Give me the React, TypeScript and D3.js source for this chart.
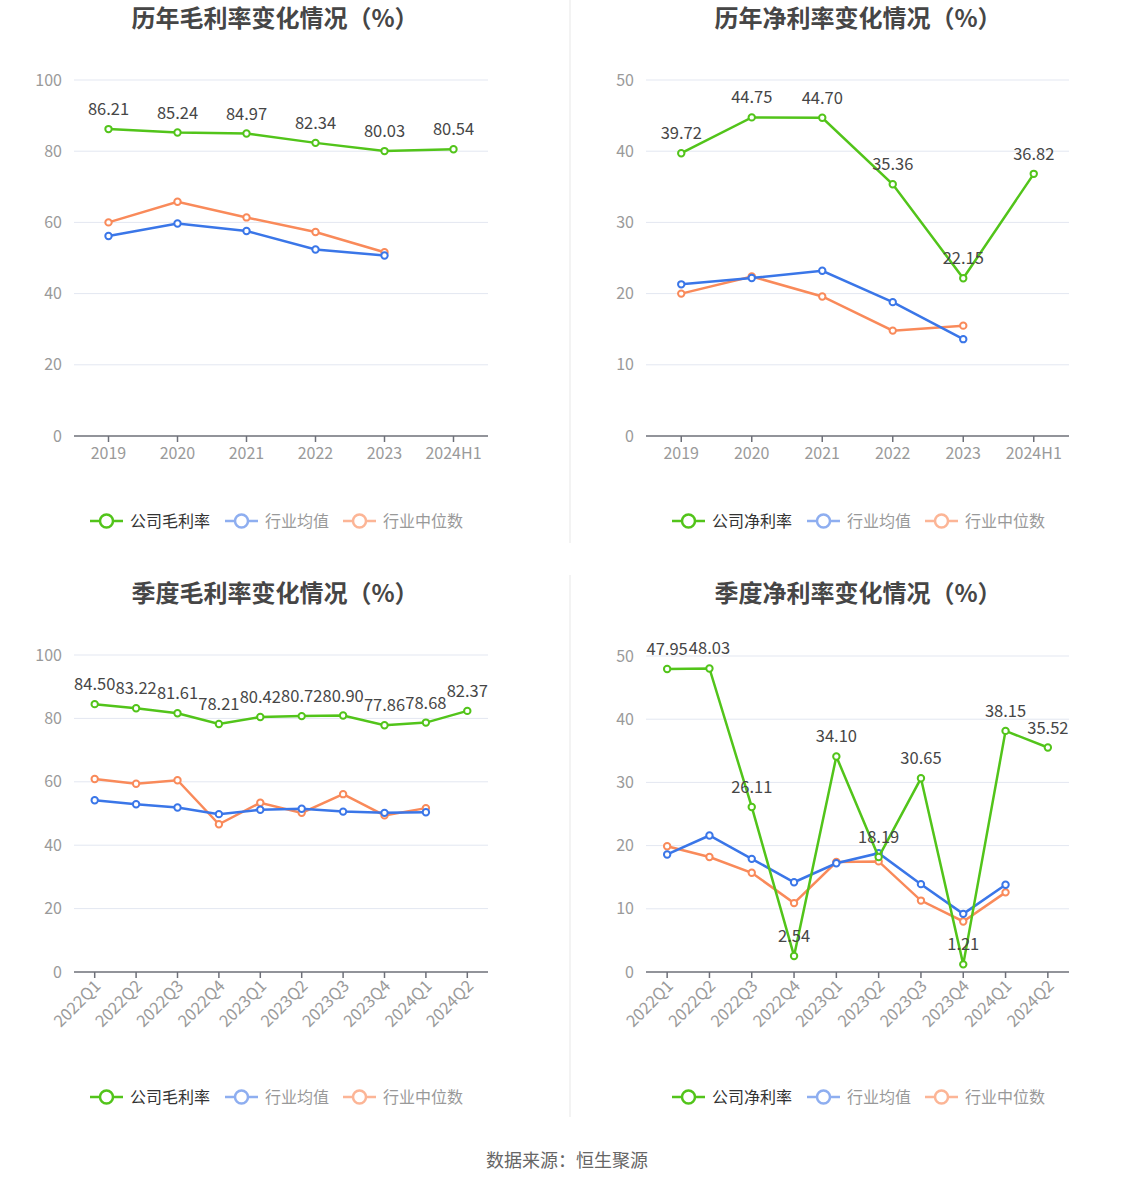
import React from 'react'
import * as d3 from 'd3'

// categories
const years = ['2019', '2020', '2021', '2022', '2023', '2024H1']
const quarters = ['2022Q1', '2022Q2', '2022Q3', '2022Q4', '2023Q1', '2023Q2', '2023Q3', '2023Q4', '2024Q1', '2024Q2']

// 历年毛利率
const yearGross = [86.21, 85.24, 84.97, 82.34, 80.03, 80.54]
const yearGrossAvg = [56.2, 59.7, 57.6, 52.4, 50.7]
const yearGrossMid = [60.0, 65.8, 61.4, 57.3, 51.6]

// 历年净利率
const yearNet = [39.72, 44.75, 44.7, 35.36, 22.15, 36.82]
const yearNetAvg = [21.3, 22.2, 23.2, 18.8, 13.6]
const yearNetMid = [20.0, 22.4, 19.6, 14.8, 15.5]

// 季度毛利率
const qGross = [84.5, 83.22, 81.61, 78.21, 80.42, 80.72, 80.9, 77.86, 78.68, 82.37]
const qGrossAvg = [54.2, 52.9, 51.9, 49.8, 51.2, 51.5, 50.6, 50.2, 50.4]
const qGrossMid = [60.9, 59.4, 60.5, 46.6, 53.4, 50.2, 56.1, 49.4, 51.7]

// 季度净利率
const qNet = [47.95, 48.03, 26.11, 2.54, 34.1, 18.19, 30.65, 1.21, 38.15, 35.52]
const qNetAvg = [18.6, 21.6, 17.9, 14.2, 17.2, 18.8, 13.9, 9.2, 13.8]
const qNetMid = [19.9, 18.2, 15.7, 10.9, 17.4, 17.5, 11.3, 8.0, 12.6]

const grossTicks = [0, 20, 40, 60, 80, 100]
const netTicks = [0, 10, 20, 30, 40, 50]

const GREEN = '#52c41a'
const BLUE = '#3a76e8'
const ORANGE = '#f98a5a'
const FONT = '"Microsoft YaHei", "Noto Sans CJK SC", "Noto Sans", sans-serif'

interface PanelProps {
  title: string
  titleX: number
  titleY: number
  cats: string[]
  company: number[]
  avg: number[]
  mid: number[]
  ticks: number[]
  x0: number
  x1: number
  y0: number
  y1: number
  rotate?: boolean
  legendX: number
  legendY: number
  companyName: string
}

function Panel(p: PanelProps) {
  const x = d3.scaleBand<string>().domain(p.cats).range([p.x0, p.x1])
  const y = d3.scaleLinear().domain([0, d3.max(p.ticks) as number]).range([p.y1, p.y0])
  const cx = (i: number) => (x(p.cats[i]) as number) + x.bandwidth() / 2
  const line = d3
    .line<number>()
    .x((d, i) => cx(i))
    .y(d => y(d))

  const series = [
    {data: p.mid, color: ORANGE},
    {data: p.avg, color: BLUE},
    {data: p.company, color: GREEN},
  ]

  const legend = [
    {name: p.companyName, color: GREEN, text: '#333', off: 0},
    {name: '行业均值', color: '#8eaef0', text: '#999', off: 135},
    {name: '行业中位数', color: '#fcb596', text: '#999', off: 253},
  ]

  return (
    <g>
      <text x={p.titleX} y={p.titleY} textAnchor="middle" fontSize={24} fontWeight="bold" fill="#464646">
        {p.title}
      </text>
      {p.ticks.map(t => (
        <g key={t}>
          {t > 0 && <line x1={p.x0} x2={p.x1} y1={y(t)} y2={y(t)} stroke="#e3e7f1" strokeWidth={1} />}
          <text x={p.x0 - 12} y={y(t)} dy="0.35em" textAnchor="end" fontSize={16} fill="#9a9a9a">
            {t}
          </text>
        </g>
      ))}
      <line x1={p.x0} x2={p.x1} y1={p.y1} y2={p.y1} stroke="#6e7079" strokeWidth={1.5} />
      {p.cats.map((c, i) => (
        <g key={c}>
          <line x1={cx(i)} x2={cx(i)} y1={p.y1} y2={p.y1 + 6} stroke="#6e7079" strokeWidth={1.5} />
          {p.rotate ? (
            <text
              transform={`translate(${cx(i) + 3},${p.y1 + 11}) rotate(-45)`}
              textAnchor="end"
              dy="0.35em"
              fontSize={16.5}
              fill="#9a9a9a"
            >
              {c}
            </text>
          ) : (
            <text x={cx(i)} y={p.y1 + 17} dy="0.35em" textAnchor="middle" fontSize={16} fill="#9a9a9a">
              {c}
            </text>
          )}
        </g>
      ))}
      {series.map((s, k) => (
        <g key={k}>
          <path d={line(s.data) as string} fill="none" stroke={s.color} strokeWidth={2.5} />
          {s.data.map((d, i) => (
            <circle key={i} cx={cx(i)} cy={y(d)} r={3.2} fill="#fff" stroke={s.color} strokeWidth={2} />
          ))}
        </g>
      ))}
      {p.company.map((d, i) => (
        <text key={i} x={cx(i)} y={y(d) - 14} textAnchor="middle" fontSize={16.5} fill="#464646">
          {d.toFixed(2)}
        </text>
      ))}
      {legend.map(l => (
        <g key={l.name} transform={`translate(${p.legendX + l.off},${p.legendY})`}>
          <line x1={0} x2={33} y1={0} y2={0} stroke={l.color} strokeWidth={2.5} />
          <circle cx={16.5} cy={0} r={6.5} fill="#fff" stroke={l.color} strokeWidth={2.5} />
          <text x={40} y={0} dy="0.35em" fontSize={16} fill={l.text}>
            {l.name}
          </text>
        </g>
      ))}
    </g>
  )
}

export default function App() {
  return (
    <svg
      width={1134}
      height={1188}
      style={{position: 'absolute', left: 0, top: 0, background: '#fff', fontFamily: FONT}}
    >
      <line x1={570} x2={570} y1={0} y2={543} stroke="#efefef" strokeWidth={1.5} />
      <line x1={570} x2={570} y1={575} y2={1117} stroke="#efefef" strokeWidth={1.5} />
      <Panel
        title="历年毛利率变化情况（%）"
        titleX={275}
        titleY={27}
        cats={years}
        company={yearGross}
        avg={yearGrossAvg}
        mid={yearGrossMid}
        ticks={grossTicks}
        x0={74}
        x1={488}
        y0={80}
        y1={436}
        legendX={90}
        legendY={521}
        companyName="公司毛利率"
      />
      <Panel
        title="历年净利率变化情况（%）"
        titleX={858}
        titleY={27}
        cats={years}
        company={yearNet}
        avg={yearNetAvg}
        mid={yearNetMid}
        ticks={netTicks}
        x0={646}
        x1={1069}
        y0={80}
        y1={436}
        legendX={672}
        legendY={521}
        companyName="公司净利率"
      />
      <Panel
        title="季度毛利率变化情况（%）"
        titleX={275}
        titleY={602}
        cats={quarters}
        company={qGross}
        avg={qGrossAvg}
        mid={qGrossMid}
        ticks={grossTicks}
        x0={74}
        x1={488}
        y0={655}
        y1={972}
        rotate
        legendX={90}
        legendY={1097}
        companyName="公司毛利率"
      />
      <Panel
        title="季度净利率变化情况（%）"
        titleX={858}
        titleY={602}
        cats={quarters}
        company={qNet}
        avg={qNetAvg}
        mid={qNetMid}
        ticks={netTicks}
        x0={646}
        x1={1069}
        y0={656}
        y1={972}
        rotate
        legendX={672}
        legendY={1097}
        companyName="公司净利率"
      />
      <text x={567} y={1161} dy="0.35em" textAnchor="middle" fontSize={18} fill="#666">
        数据来源：恒生聚源
      </text>
    </svg>
  )
}
